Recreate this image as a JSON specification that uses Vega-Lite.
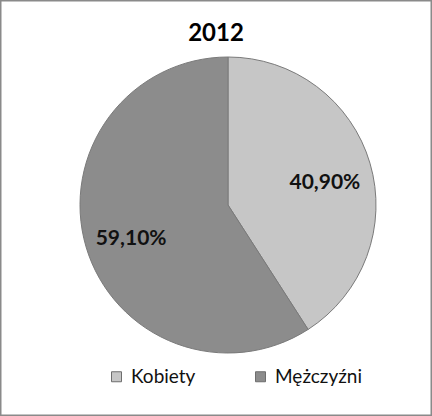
{
  "$schema": "https://vega.github.io/schema/vega-lite/v6.json",
  "width": 432,
  "height": 416,
  "padding": 0,
  "autosize": {"type": "none"},
  "background": "white",
  "title": {
    "text": "2012",
    "orient": "top",
    "anchor": "middle",
    "offset": -66,
    "baseline": "alphabetic",
    "font": "Lato",
    "fontSize": 24,
    "fontWeight": "bold",
    "color": "#000000"
  },
  "data": {
    "values": [
      {"plec": "Kobiety", "udzial": 0.409},
      {"plec": "Mężczyźni", "udzial": 0.591}
    ]
  },
  "layer": [
    {
      "data": {"values": [{"ramka": 1}]},
      "mark": {"type": "rect", "fill": null, "stroke": "#8a8a8a", "strokeWidth": 3},
      "encoding": {
        "x": {"value": 0},
        "x2": {"value": "width"},
        "y": {"value": 0},
        "y2": {"value": "height"}
      }
    },
    {
      "mark": {"type": "arc", "x": 228, "y": 205, "outerRadius": 148, "stroke": "#7a7a7a", "strokeWidth": 1},
      "encoding": {
        "theta": {"field": "udzial", "type": "quantitative", "stack": true},
        "color": {
          "field": "plec",
          "type": "nominal",
          "sort": ["Kobiety", "Mężczyźni"],
          "scale": {"domain": ["Kobiety", "Mężczyźni"], "range": ["#c6c6c6", "#8c8c8c"]},
          "legend": {
            "title": null,
            "orient": "none",
            "legendX": 107,
            "legendY": 367,
            "direction": "horizontal",
            "symbolType": "square",
            "symbolSize": 100,
            "symbolStrokeColor": "#6e6e6e",
            "symbolStrokeWidth": 1,
            "labelFont": "Lato",
            "labelFontSize": 19,
            "labelColor": "#111111",
            "labelOffset": 5,
            "columnPadding": 55
          }
        }
      }
    },
    {
      "mark": {
        "type": "text",
        "x": 228,
        "y": 205,
        "radius": 101,
        "dy": 6,
        "font": "Lato",
        "fontSize": 21,
        "fontWeight": "bold",
        "align": "center",
        "baseline": "middle"
      },
      "encoding": {
        "theta": {"field": "udzial", "type": "quantitative", "stack": true},
        "text": {"field": "udzial", "type": "quantitative", "format": ".2%"},
        "color": {"value": "#111111"}
      }
    }
  ],
  "config": {
    "locale": {
      "number": {"decimal": ",", "thousands": " ", "grouping": [3], "currency": ["", " zł"]}
    },
    "view": {"stroke": null}
  }
}
